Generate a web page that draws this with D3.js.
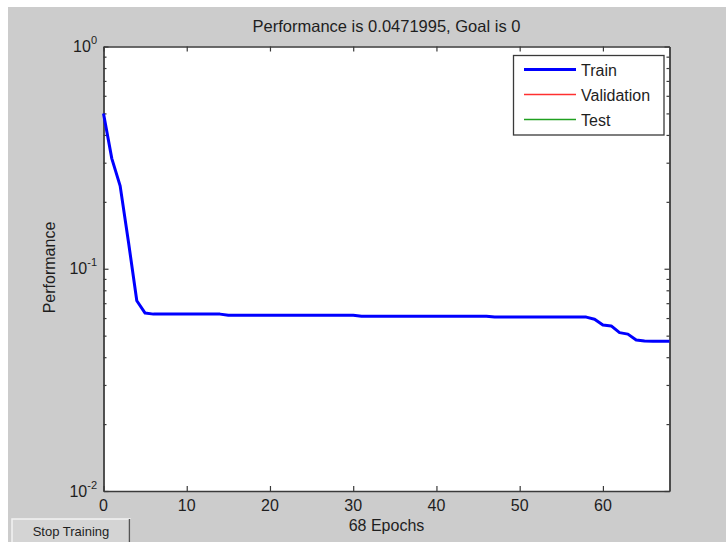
<!DOCTYPE html>
<html>
<head>
<meta charset="utf-8">
<script src="https://cdn.jsdelivr.net/npm/d3@7"></script>
<style>
  html, body { margin: 0; padding: 0; background: #ffffff; }
  svg { display: block; font-family: "Liberation Sans", Arial, sans-serif; }
</style>
</head>
<body>
<svg id="chart" width="726" height="542"></svg>
<script>
// ---- data ----
const epochs = d3.range(0, 69);
const trainPerf = [
  0.499, 0.313, 0.236, 0.132, 0.0718, 0.0632,
  0.0625, 0.0625, 0.0625, 0.0625, 0.0625, 0.0625, 0.0625, 0.0625, 0.0625,
  0.0618, 0.0618, 0.0618, 0.0618, 0.0618, 0.0618, 0.0618, 0.0618,
  0.0618, 0.0618, 0.0618, 0.0618, 0.0618, 0.0618, 0.0618, 0.0618,
  0.0612, 0.0612, 0.0612, 0.0612, 0.0612, 0.0612, 0.0612, 0.0612,
  0.0612, 0.0612, 0.0612, 0.0612, 0.0612, 0.0612, 0.0612, 0.0612,
  0.0606, 0.0606, 0.0606, 0.0606, 0.0606, 0.0606,
  0.0606, 0.0606, 0.0606, 0.0606, 0.0606, 0.0606,
  0.0593, 0.0558, 0.0553, 0.0516, 0.0508, 0.0478,
  0.0473, 0.0472, 0.0472, 0.0471995
];
const xTicks = [0, 10, 20, 30, 40, 50, 60];
const yMajorTicks = [1, 0.1, 0.01];
const yMajorExp = ["0", "-1", "-2"];
const yMinorTicks = [0.02, 0.03, 0.04, 0.05, 0.06, 0.07, 0.08, 0.09,
                     0.2, 0.3, 0.4, 0.5, 0.6, 0.7, 0.8, 0.9];
const legendNames = ["Train", "Validation", "Test"];
const legendColors = ["#0000ff", "#ff3030", "#20a020"];
const legendWidths = [3, 1.3, 1.3];
const titleText = "Performance is 0.0471995, Goal is 0";
const xLabelText = "68 Epochs";
const yLabelText = "Performance";
const buttonText = "Stop Training";

// ---- layout ----
const svg = d3.select("#chart");
const L = 103.5, R = 669.5, T = 46.5, B = 491;
const x = d3.scaleLinear().domain([0, 68]).range([L, R]);
const y = d3.scaleLog().domain([0.01, 1]).range([B, T]);
const textCol = "#1e1e1e";
const axisCol = "#3a3a3a";

// figure background
svg.append("rect").attr("x", 8).attr("y", 7).attr("width", 718).attr("height", 535)
  .attr("fill", "#cccccc");

// plot area
svg.append("rect").attr("x", L).attr("y", T).attr("width", R - L).attr("height", B - T)
  .attr("fill", "#ffffff");

// axes (ticks inward)
const gx = svg.append("g").attr("transform", `translate(0,${B})`)
  .call(d3.axisBottom(x).tickValues(xTicks).tickSizeInner(-5).tickSizeOuter(0).tickFormat(""));
const gxTop = svg.append("g").attr("transform", `translate(0,${T})`)
  .call(d3.axisTop(x).tickValues(xTicks).tickSizeInner(-5).tickSizeOuter(0).tickFormat(""));
const gy = svg.append("g").attr("transform", `translate(${L},0)`)
  .call(d3.axisLeft(y).tickValues(yMajorTicks).tickSizeInner(-5).tickSizeOuter(0).tickFormat(""));
const gyMin = svg.append("g").attr("transform", `translate(${L},0)`)
  .call(d3.axisLeft(y).tickValues(yMinorTicks).tickSizeInner(-3).tickSizeOuter(0).tickFormat(""));
const gyR = svg.append("g").attr("transform", `translate(${R},0)`)
  .call(d3.axisRight(y).tickValues(yMajorTicks).tickSizeInner(-5).tickSizeOuter(0).tickFormat(""));
const gyRMin = svg.append("g").attr("transform", `translate(${R},0)`)
  .call(d3.axisRight(y).tickValues(yMinorTicks).tickSizeInner(-3).tickSizeOuter(0).tickFormat(""));
[gx, gxTop, gy, gyMin, gyR, gyRMin].forEach(g => {
  g.selectAll("path.domain").attr("stroke", axisCol).attr("stroke-width", 1.3);
  g.selectAll(".tick line").attr("stroke", axisCol).attr("stroke-width", 1.2);
});

// x tick labels
svg.append("g").selectAll("text").data(xTicks).join("text")
  .attr("x", d => x(d)).attr("y", 511)
  .attr("text-anchor", "middle").attr("font-size", 16).attr("fill", textCol)
  .text(d => d);

// y tick labels with superscripts
const yl = svg.append("g").selectAll("text").data(yMajorTicks).join("text")
  .attr("x", 97).attr("y", d => y(d) + 5.5)
  .attr("text-anchor", "end").attr("font-size", 16).attr("fill", textCol);
yl.append("tspan").text("10");
yl.append("tspan").attr("dy", -8).attr("font-size", 11).text((d, i) => yMajorExp[i]);

// training curve
const line = d3.line().x((d, i) => x(epochs[i])).y(d => y(d));
svg.append("path").datum(trainPerf)
  .attr("d", line).attr("fill", "none")
  .attr("stroke", "#0000ff").attr("stroke-width", 3).attr("stroke-linejoin", "round");

// title & labels
svg.append("text").attr("x", (L + R) / 2).attr("y", 32)
  .attr("text-anchor", "middle").attr("font-size", 16.5).attr("fill", textCol).text(titleText);
svg.append("text").attr("x", (L + R) / 2).attr("y", 531)
  .attr("text-anchor", "middle").attr("font-size", 16).attr("fill", textCol).text(xLabelText);
svg.append("text").attr("transform", "translate(55,267.5) rotate(-90)")
  .attr("text-anchor", "middle").attr("font-size", 16).attr("fill", textCol).text(yLabelText);

// legend
const lg = svg.append("g");
lg.append("rect").attr("x", 513.5).attr("y", 55.5).attr("width", 150.5).attr("height", 79.5)
  .attr("fill", "#ffffff").attr("stroke", axisCol).attr("stroke-width", 1.3);
const ly = [69.5, 94.5, 119.5];
legendNames.forEach((n, i) => {
  lg.append("line").attr("x1", 524).attr("x2", 576).attr("y1", ly[i]).attr("y2", ly[i])
    .attr("stroke", legendColors[i]).attr("stroke-width", legendWidths[i]);
  lg.append("text").attr("x", 581).attr("y", ly[i] + 6.5)
    .attr("font-size", 16).attr("fill", textCol).text(n);
});

// Stop Training button
const bt = svg.append("g");
bt.append("rect").attr("x", 12).attr("y", 519).attr("width", 118).attr("height", 25)
  .attr("fill", "#d4d4d4").attr("stroke", "#f2f2f2").attr("stroke-width", 1.5);
bt.append("line").attr("x1", 129.5).attr("x2", 129.5).attr("y1", 519).attr("y2", 542)
  .attr("stroke", "#555555").attr("stroke-width", 1.5);
bt.append("text").attr("x", 71).attr("y", 536).attr("text-anchor", "middle")
  .attr("font-size", 13).attr("fill", textCol).text(buttonText);
</script>
</body>
</html>
